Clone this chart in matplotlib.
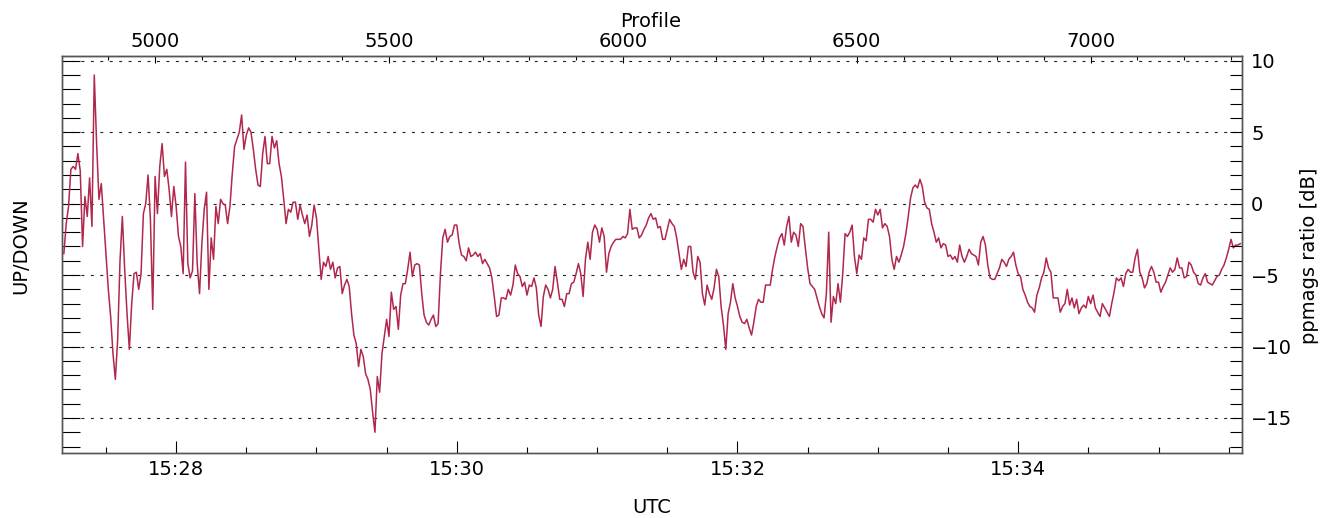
import matplotlib.pyplot as plt
import numpy as np
from matplotlib.ticker import MultipleLocator, FixedLocator, FuncFormatter

# Temps du premier point (secondes après 15:27:00), un point par seconde
t_debut = 12
pas = 1.0

# Rapport ppmags [dB]
ratio_db = [
    -3.5, -1.4, -0.2, 2.4, 2.6, 2.4, 3.5, 2.3, -3.0, 0.5,
    -0.9, 1.8, -1.6, 9.0, 4.2, 0.3, 1.4, -1.1, -3.7, -6.0,
    -7.9, -10.5, -12.3, -9.5, -4.0, -0.9, -4.6, -7.7, -10.2, -7.0,
    -4.9, -4.8, -6.0, -4.9, -0.7, 0.0, 2.0, -1.1, -7.4, 1.9,
    -0.7, 2.6, 4.2, 1.9, 2.4, 1.0, -0.9, 1.2, -0.2, -2.3,
    -3.0, -4.9, 2.9, -4.2, -5.2, -4.7, 0.7, -4.2, -6.3, -2.8,
    -0.4, 0.8, -6.0, -2.4, -3.9, -0.2, -1.4, 0.3, 0.0, -0.1,
    -1.4, -0.2, 2.1, 4.0, 4.5, 5.0, 6.2, 3.8, 4.8, 5.3,
    5.0, 3.8, 2.4, 1.3, 1.2, 3.5, 4.7, 2.8, 2.8, 4.7,
    3.9, 4.4, 2.8, 1.9, 0.3, -1.4, -0.4, -0.6, 0.1, 0.1,
    -1.1, -0.1, -0.8, -1.4, -0.8, -2.3, -1.5, -0.1, -1.0, -3.1,
    -5.3, -4.1, -4.4, -3.7, -4.6, -4.1, -5.2, -4.5, -4.4, -6.3,
    -5.7, -5.3, -5.8, -7.7, -9.2, -9.8, -11.4, -10.2, -10.7, -11.9,
    -12.3, -13.0, -14.6, -16.0, -12.1, -13.2, -10.5, -9.3, -8.1, -9.3,
    -6.2, -7.4, -7.2, -8.8, -6.4, -5.6, -5.6, -4.6, -3.4, -5.1,
    -4.3, -4.2, -4.3, -6.3, -7.8, -8.3, -8.5, -8.1, -7.8, -8.6,
    -8.4, -4.9, -2.4, -1.8, -2.7, -2.3, -2.2, -1.5, -1.5, -2.8,
    -3.6, -3.7, -4.0, -3.1, -3.7, -3.6, -3.4, -3.7, -3.5, -4.2,
    -3.9, -4.2, -4.5, -5.2, -6.5, -7.9, -7.8, -6.6, -6.6, -6.7,
    -6.0, -6.4, -5.7, -4.3, -4.9, -5.1, -5.8, -5.5, -6.4, -5.7,
    -5.8, -5.2, -5.9, -7.8, -8.6, -6.5, -5.7, -6.0, -6.6, -6.0,
    -4.4, -5.5, -6.7, -6.7, -7.2, -6.3, -6.3, -5.6, -5.5, -4.9,
    -4.2, -4.9, -6.5, -3.9, -2.7, -3.9, -2.0, -1.5, -1.8, -2.7,
    -1.7, -2.3, -4.8, -3.5, -3.0, -2.7, -2.5, -2.5, -2.5, -2.3,
    -2.4, -2.1, -0.4, -1.8, -1.7, -1.7, -2.4, -2.2, -1.8, -1.5,
    -1.0, -0.7, -1.1, -1.0, -1.7, -1.6, -2.5, -2.5, -1.8, -1.1,
    -1.4, -1.6, -2.4, -3.5, -4.6, -3.9, -4.4, -3.0, -3.0, -4.8,
    -5.3, -3.7, -4.1, -6.3, -7.1, -5.7, -6.3, -6.7, -5.9, -4.6,
    -5.1, -7.2, -8.5, -10.2, -7.7, -6.9, -5.6, -6.6, -7.2, -7.9,
    -8.3, -8.4, -8.1, -8.7, -9.2, -8.3, -7.2, -6.7, -6.9, -6.9,
    -5.7, -5.7, -5.7, -4.6, -3.7, -3.0, -2.4, -2.1, -2.9, -1.6,
    -0.9, -2.7, -2.0, -2.2, -3.0, -1.4, -1.6, -3.1, -4.5, -5.6,
    -5.8, -6.0, -6.6, -7.2, -7.7, -8.0, -6.3, -2.0, -8.3, -6.5,
    -7.0, -5.6, -6.9, -4.9, -2.1, -2.3, -2.0, -1.5, -3.7, -4.9,
    -3.6, -3.9, -2.4, -2.6, -1.1, -1.1, -1.3, -0.4, -0.8, -0.4,
    -1.7, -1.4, -1.6, -2.3, -3.9, -4.6, -3.7, -4.1, -3.6, -3.0,
    -2.1, -0.9, 0.4, 1.1, 1.3, 1.1, 1.7, 1.2, 0.1, -0.3,
    -0.4, -1.4, -2.0, -2.7, -2.4, -3.1, -2.8, -2.9, -3.7, -3.6,
    -3.9, -3.7, -4.1, -2.9, -3.7, -4.1, -3.7, -3.2, -3.5, -3.6,
    -3.7, -4.3, -2.7, -2.3, -2.9, -4.3, -5.2, -5.3, -5.3, -4.9,
    -4.5, -3.9, -4.1, -4.4, -3.9, -3.7, -3.4, -4.3, -4.9, -5.1,
    -6.0, -6.4, -6.9, -7.2, -7.3, -7.6, -6.4, -5.9, -5.2, -4.8,
    -3.8, -4.5, -4.8, -6.6, -6.6, -6.6, -7.6, -7.2, -7.0, -6.0,
    -7.1, -6.6, -7.3, -6.7, -7.7, -7.3, -7.1, -7.3, -6.5, -7.0,
    -6.4, -7.3, -7.6, -7.9, -7.0, -7.3, -7.6, -7.9, -7.0, -6.2,
    -5.2, -5.4, -5.2, -5.8, -4.9, -4.6, -4.8, -4.8, -3.8, -3.2,
    -4.8, -5.2, -5.9, -5.6, -4.8, -4.4, -4.8, -5.5, -5.5, -6.2,
    -5.8, -5.5, -5.0, -4.5, -4.8, -4.6, -3.8, -4.5, -4.5, -5.2,
    -5.1, -4.1, -4.3, -4.8, -5.0, -5.6, -5.7, -5.2, -4.9, -5.5,
    -5.6, -5.7, -5.4, -5.1, -5.0, -4.6, -4.3, -3.8, -3.2, -2.5,
    -3.1, -2.9, -2.9, -2.8,
]

# Numéro de profil : 4745 à 15:27:00, 5 profils par seconde
profil_t0 = 4745
profils_par_s = 5

# Graduations
utc_majeures = [60, 180, 300, 420]          # 15:28, 15:30, 15:32, 15:34
profils_majeurs = [5000, 5500, 6000, 6500, 7000]
profils_mineurs = np.arange(4900, 7301, 100)

t = t_debut + pas * np.arange(len(ratio_db))

plt.rcParams['font.family'] = ['DejaVu Sans']
plt.rcParams['font.size'] = 14

fig = plt.figure(figsize=(13.35, 5.18), dpi=100)
ax = fig.add_axes([0.04644, 0.1261, 0.8839, 0.7658])

ax.plot(t, ratio_db, color='#b0284c', lw=1.1, zorder=3)

ax.set_xlim(11.2, 515.7)
ax.set_ylim(-17.43, 10.33)

# Grille pointillée
ax.yaxis.set_major_locator(MultipleLocator(5))
ax.yaxis.set_minor_locator(MultipleLocator(1))
ax.grid(axis='y', which='major', color='#222222', lw=0.8, linestyle=(0, (2.7, 5.8)))

# Axe UTC en bas
def utc(s, pos):
    m = 27 + int(round(s / 60))
    return '15:%02d' % m

ax.xaxis.set_major_locator(FixedLocator(utc_majeures))
ax.xaxis.set_minor_locator(MultipleLocator(30))
ax.xaxis.set_major_formatter(FuncFormatter(utc))
ax.tick_params(axis='x', which='major', direction='in', length=8.5, width=0.8, pad=5, top=False)
ax.tick_params(axis='x', which='minor', direction='in', length=4.3, width=0.8, top=False)

# Graduations à gauche (sans étiquettes)
ax.tick_params(axis='y', which='both', direction='in', length=13, width=0.8,
               left=True, right=False, labelleft=False)

# Axe de droite
ax2 = ax.twinx()
ax2.set_ylim(ax.get_ylim())
ax2.yaxis.set_major_locator(MultipleLocator(5))
ax2.yaxis.set_minor_locator(MultipleLocator(1))
ax2.tick_params(axis='y', which='both', direction='in', length=8.5, width=0.8, pad=6.5)
ax2.yaxis.set_major_formatter(FuncFormatter(lambda v, pos: '%d' % v if v >= 0 else '\u2212%d' % -v))

# Axe Profile en haut
secax = ax.secondary_xaxis('top', functions=(lambda s: profil_t0 + profils_par_s * s,
                                             lambda p: (p - profil_t0) / profils_par_s))
secax.xaxis.set_major_locator(FixedLocator(profils_majeurs))
secax.xaxis.set_minor_locator(FixedLocator(profils_mineurs))
secax.tick_params(axis='x', which='major', direction='in', length=5, width=0.8, pad=3.5)
secax.tick_params(axis='x', which='minor', direction='in', length=3, width=0.8)

for a in (ax, ax2):
    for sp in a.spines.values():
        sp.set_color('#555555')
        sp.set_linewidth(1.0)
for sp in secax.spines.values():
    sp.set_color('#666666')

# Titres des axes
fig.text(651 / 1335, 1 - 27 / 518, 'Profile', ha='center', va='baseline')
fig.text(652 / 1335, 1 - 513 / 518, 'UTC', ha='center', va='baseline')
fig.text(26 / 1335, 1 - 246 / 518, 'UP/DOWN', ha='center', va='baseline',
         rotation=90, rotation_mode='anchor')
fig.text(1315 / 1335, 1 - 256 / 518, 'ppmags ratio [dB]', ha='center', va='baseline',
         rotation=90, rotation_mode='anchor')

fig.savefig('out.png', dpi=100)
